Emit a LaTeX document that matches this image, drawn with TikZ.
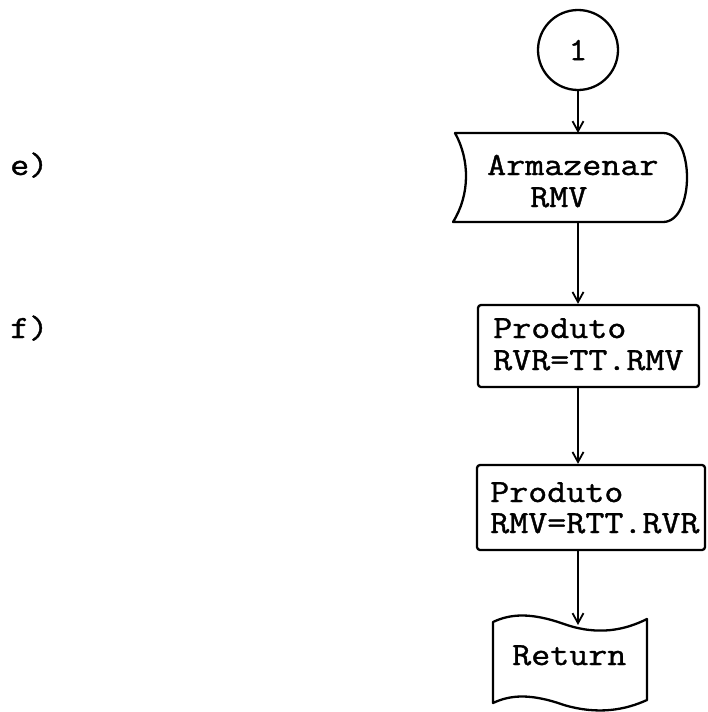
\documentclass[tikz,border=0pt]{standalone}
\usepackage{fontspec}
\newfontfamily\tw[FakeStretch=1.14,FakeBold=1.2]{Latin Modern Mono}
\usetikzlibrary{arrows.meta}
\tikzset{
  ln/.style={line width=2.3pt, line join=round},
  arr/.style={ln, -{Straight Barb[length=10pt,width=11pt,line width=1.8pt]}},
  txt/.style={anchor=base west, inner sep=0pt, font=\tw\fontsize{32.4}{33}\selectfont},
  procbox/.style={ln, draw, rectangle, rounded corners=3pt, inner sep=0pt},
  ghost/.style={inner sep=0pt, outer sep=0pt}
}
\begin{document}
\begin{tikzpicture}[x=1pt,y=-1pt]
\fill[white] (0,0) rectangle (707,712);
\useasboundingbox (0,0) rectangle (707,712);

% labels
\node[txt] (le) at (10,175) {e)};
\node[txt] (lf) at (10,338) {f)};

% connector circle
\node[ln, draw, circle, minimum size=80pt, inner sep=0pt, font=\tw\fontsize{32.4}{33}\selectfont] (c1) at (578,50) {1};

% storage shape
\node[ghost, minimum width=232pt, minimum height=89pt] (s1) at (571,177.5) {};
\draw[ln] (455,133) -- (663,133) .. controls (695,133) and (695,222) .. (663,222)
  -- (453,222) .. controls (470,195) and (470,160) .. (455,133) -- cycle;
\node[txt] (t1) at (487,175) {Armazenar};
\node[txt] (t2) at (530,207) {RMV};

% process box 1
\node[procbox, minimum width=221pt, minimum height=82pt] (p1) at (588.5,346) {};
\node[txt] (t3) at (493,338) {Produto};
\node[txt] (t4) at (493,370) {RVR=TT.RMV};

% process box 2
\node[procbox, minimum width=228pt, minimum height=85pt] (p2) at (591,507.5) {};
\node[txt] (t5) at (490,502) {Produto};
\node[txt] (t6) at (490,533) {RMV=RTT.RVR};

% punched tape (Return)
\node[ghost, minimum width=154pt, minimum height=81pt] (r1) at (570,662) {};
\draw[ln] (493,622) .. controls (510,614) and (530,612) .. (564,624)
  .. controls (598,636) and (625,630) .. (647,619)
  -- (647,700) .. controls (625,710) and (598,715) .. (564,705)
  .. controls (530,693) and (510,695) .. (493,703) -- cycle;
\coordinate (rtop) at (578,625);
\node[txt] (t7) at (512,665) {Return};

% connectors
\draw[arr] (c1.south) -- (c1.south |- s1.north);
\draw[arr] (c1.south |- s1.south) -- (c1.south |- p1.north);
\draw[arr] (c1.south |- p1.south) -- (c1.south |- p2.north);
\draw[arr] (c1.south |- p2.south) -- (rtop);
\end{tikzpicture}
\end{document}
